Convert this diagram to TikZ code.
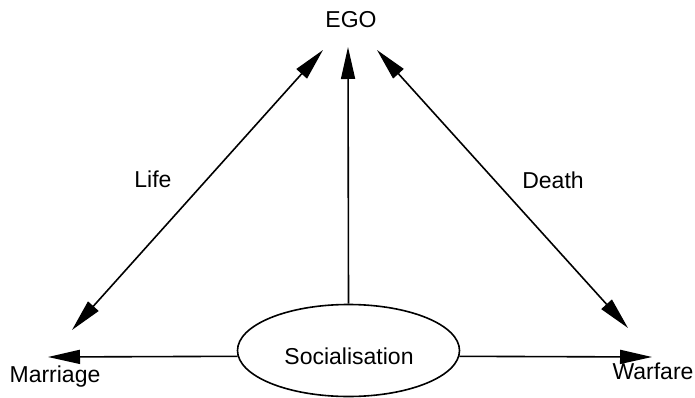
\documentclass[tikz,border=0pt]{standalone}
\usepackage{fontspec}
\setmainfont{Liberation Sans}
\usetikzlibrary{arrows.meta,shapes.geometric}

\begin{document}
\begin{tikzpicture}[x=1pt,y=-1pt,
  lbl/.style={font=\fontsize{23}{27}\selectfont, inner sep=0pt, anchor=base},
  conn/.style={line width=1.6pt, -{Triangle[length=32pt,width=14pt]}},
  twoway/.style={line width=1.6pt, {Triangle[length=32pt,width=14pt]}-{Triangle[length=32pt,width=14pt]}}]
\useasboundingbox (0,0) rectangle (695,398);

% labels
\node[lbl] (ego) at (351,28) {EGO};
\node[lbl] (life) at (153,187) {Life};
\node[lbl] (death) at (553,188) {Death};
\node[lbl] (mar) at (55,382) {Marriage};
\node[lbl] (war) at (653,379) {Warfare};

% socialisation
\node[ellipse, draw, line width=1.6pt, minimum width=222pt, minimum height=92pt, inner sep=0pt] (soc) at (348.5,350.5) {};
\node[lbl] (soctxt) at (349,364) {Socialisation};

% arrow ends
\coordinate (lt) at (323,50);
\coordinate (lb) at (72,330);
\coordinate (mt) at (348,47);
\coordinate (rt) at (377,50);
\coordinate (rb) at (628,328);
\coordinate (mr) at (48,357);
\coordinate (wf) at (652,357);

\draw[twoway] (lb) -- (lt);
\draw[twoway] (rt) -- (rb);
\draw[conn] (soc.north) -- (mt);
\draw[conn] (soc.183) -- (mr);
\draw[conn] (soc.-3) -- (wf);
\end{tikzpicture}
\end{document}
